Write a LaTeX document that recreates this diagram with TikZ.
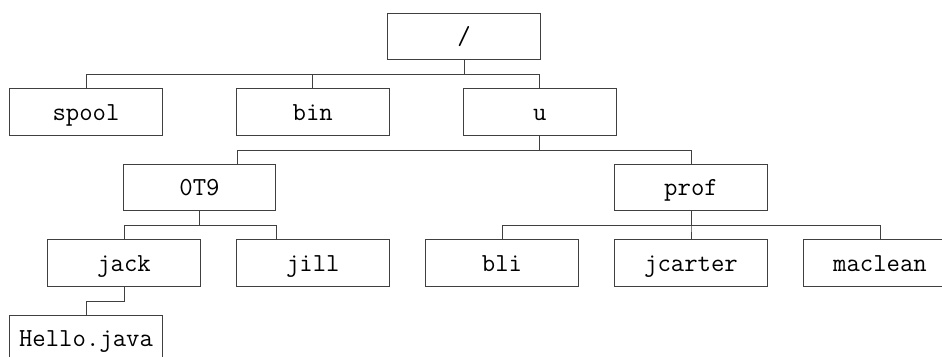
\documentclass[tikz,border=0pt]{standalone}
\usetikzlibrary{calc}
\begin{document}
\begin{tikzpicture}[x=1pt,y=-1pt,
  dirbox/.style={draw=black!75,line width=0.9pt,minimum width=152.6pt,minimum height=46.3pt,
    inner sep=0pt,text height=18pt,text depth=2pt,font=\fontsize{26}{30}\selectfont\ttfamily},
  link/.style={draw=black!75,line width=0.9pt}]
\clip (0,0) rectangle (942,356);
\fill[white] (0,0) rectangle (942,356);
\node[dirbox] (root) at (464,36.5) {/};
\node[dirbox] (spool) at (86,112) {spool};
\node[dirbox] (bin) at (312.8,112) {bin};
\node[dirbox] (u) at (539.8,112) {u};
\node[dirbox] (ot) at (199.5,187.7) {0T9};
\node[dirbox] (prof) at (691,187.7) {prof};
\node[dirbox] (jack) at (124,263) {jack};
\node[dirbox] (jill) at (312.8,263) {jill};
\node[dirbox] (bli) at (502,263) {bli};
\node[dirbox] (jcarter) at (691,263) {jcarter};
\node[dirbox] (maclean) at (880,263) {maclean};
\node[dirbox] (hello) at (86,338.3) {Hello.java};
% root
\draw[link] (root.south) -- ++(0,14.3) -| (spool.north);
\draw[link] (root.south) -- ++(0,14.3) -| (bin.north);
\draw[link] (root.south) -- ++(0,14.3) -| (u.north);
% u
\draw[link] (u.south) -- ++(0,14.8) -| ($(ot.north)+(37.8,0)$);
\draw[link] (u.south) -- ++(0,14.8) -| (prof.north);
% 0T9
\draw[link] (ot.south) -- ++(0,14.3) -| (jack.north);
\draw[link] (ot.south) -- ++(0,14.3) -| (jill.north -| ot.east);
% prof
\draw[link] (prof.south) -- ++(0,14.3) -| (bli.north);
\draw[link] (prof.south) -- ++(0,14.3) -| (jcarter.north);
\draw[link] (prof.south) -- ++(0,14.3) -| (maclean.north);
% jack
\draw[link] (jack.south) -- ++(0,15) -| (hello.north);
\end{tikzpicture}
\end{document}
